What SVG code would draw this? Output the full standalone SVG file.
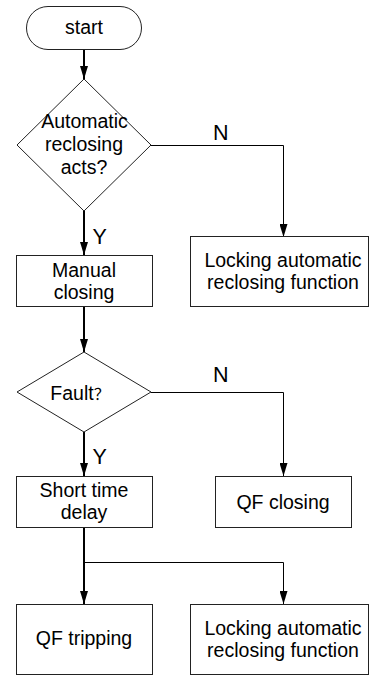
<svg xmlns="http://www.w3.org/2000/svg" width="370" height="676" viewBox="0 0 370 676">
<style>
.shape{fill:#fff;stroke:#222;stroke-width:1}
.lbl{font-family:"Liberation Sans",Arial,sans-serif;font-size:19.5px;fill:#000;text-anchor:middle}
.yn{font-family:"Liberation Sans",Arial,sans-serif;font-size:21.5px;fill:#000}
.c1{fill:none;stroke:#000;stroke-width:1}
.c2{fill:none;stroke:#000;stroke-width:2}
</style>
<defs>
<marker id="ah" viewBox="0 0 13 8" refX="13" refY="4" markerWidth="13" markerHeight="8" markerUnits="userSpaceOnUse" orient="auto">
<path d="M0,0 L13,4 L0,8 z" fill="#000"/>
</marker>
</defs>
<rect width="370" height="676" fill="#fff"/>
<g id="connectors">
<path class="c2" d="M84,49 V79" marker-end="url(#ah)"/>
<path class="c1" d="M151,145.5 H283.5 V237" marker-end="url(#ah)"/>
<path class="c2" d="M84,211 V255" marker-end="url(#ah)"/>
<path class="c2" d="M84,307 V352" marker-end="url(#ah)"/>
<path class="c1" d="M151,392.5 H283.5 V476" marker-end="url(#ah)"/>
<path class="c2" d="M84,432 V476" marker-end="url(#ah)"/>
<path class="c2" d="M84,527 V604" marker-end="url(#ah)"/>
<path class="c1" d="M84,562.5 H283.5 V604" marker-end="url(#ah)"/>
<text class="yn" x="213" y="139.5">N</text>
<text class="yn" x="92.5" y="244">Y</text>
<text class="yn" x="213" y="382">N</text>
<text class="yn" x="92.5" y="464">Y</text>
</g>
<g id="start">
<rect class="shape" x="26.5" y="6.5" width="115" height="43" rx="21.5" ry="21.5"/>
<text class="lbl" x="84" y="34">start</text>
</g>
<g id="decision1">
<polygon class="shape" points="84,79 151,145 84,211 17,145"/>
<text class="lbl" x="84.5" y="128">Automatic</text>
<text class="lbl" x="84" y="151">reclosing</text>
<text class="lbl" x="84" y="174">acts?</text>
</g>
<g id="lock1">
<rect class="shape" x="190.5" y="236.5" width="178" height="70"/>
<text class="lbl" x="283" y="266.5">Locking automatic</text>
<text class="lbl" x="283" y="288.5">reclosing function</text>
</g>
<g id="manual">
<rect class="shape" x="16.5" y="255.5" width="136" height="51"/>
<text class="lbl" x="84" y="277">Manual</text>
<text class="lbl" x="84" y="299">closing</text>
</g>
<g id="decision2">
<polygon class="shape" points="84,352 151,392 84,432 17,392"/>
<text class="lbl" x="80" y="400">Fault<tspan font-family="'Noto Sans CJK SC',sans-serif" font-size="16">？</tspan></text>
</g>
<g id="qfclosing">
<rect class="shape" x="215.5" y="476.5" width="136" height="51"/>
<text class="lbl" x="283" y="509">QF closing</text>
</g>
<g id="delay">
<rect class="shape" x="16.5" y="476.5" width="136" height="51"/>
<text class="lbl" x="84" y="497">Short time</text>
<text class="lbl" x="84" y="519">delay</text>
</g>
<g id="tripping">
<rect class="shape" x="16.5" y="604.5" width="136" height="70"/>
<text class="lbl" x="84" y="645">QF tripping</text>
</g>
<g id="lock2">
<rect class="shape" x="190.5" y="604.5" width="178" height="70"/>
<text class="lbl" x="283" y="635">Locking automatic</text>
<text class="lbl" x="283" y="657">reclosing function</text>
</g>
</svg>
